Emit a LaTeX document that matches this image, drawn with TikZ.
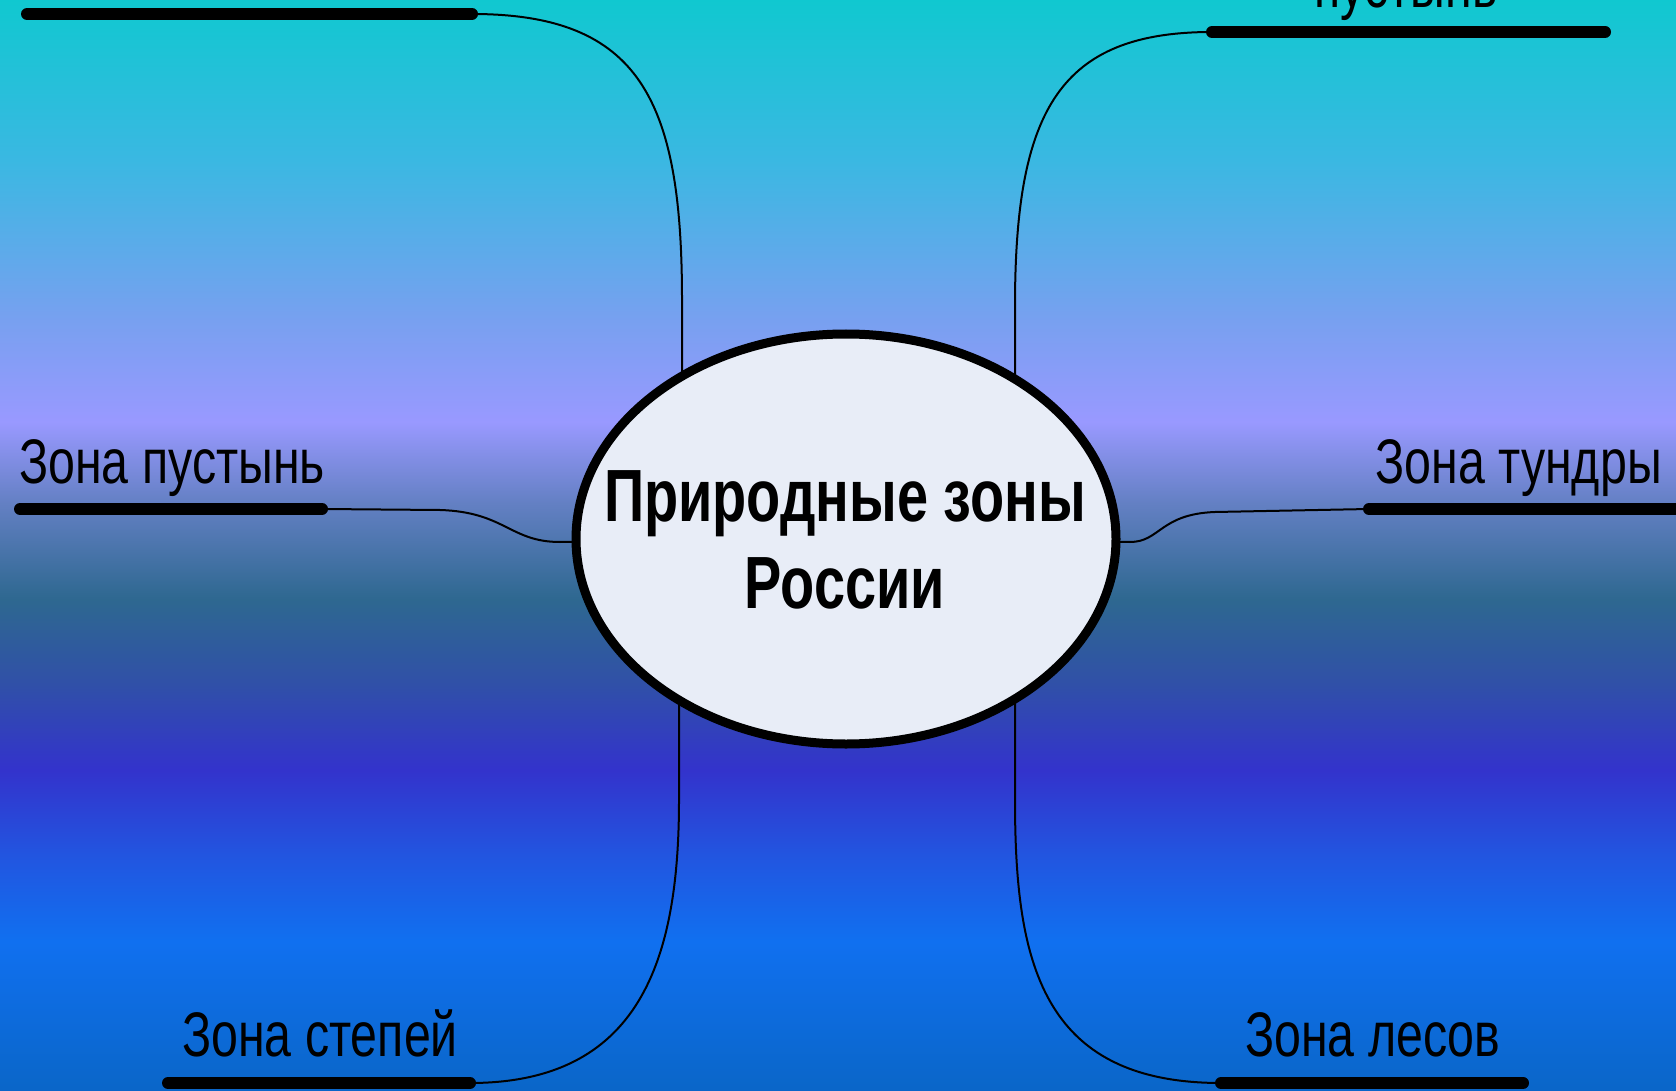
\documentclass[tikz,border=0pt]{standalone}
\usepackage{fontspec}
\usetikzlibrary{shapes.geometric}
\newfontfamily\lblfont[FakeStretch=0.767]{Liberation Sans}
\newfontfamily\ttlfont[FakeStretch=0.755]{Liberation Sans Bold}
\definecolor{bgA}{RGB}{10,102,200}
\definecolor{bgB}{RGB}{16,112,240}
\definecolor{bgC}{RGB}{34,85,224}
\definecolor{bgD}{RGB}{51,51,204}
\definecolor{bgE}{RGB}{48,80,168}
\definecolor{bgF}{RGB}{46,104,144}
\definecolor{bgG}{RGB}{100,128,196}
\definecolor{bgH}{RGB}{153,153,255}
\definecolor{bgI}{RGB}{120,160,240}
\definecolor{bgJ}{RGB}{58,184,226}
\definecolor{bgK}{RGB}{16,200,208}
\definecolor{ellfill}{RGB}{232,237,247}
\pgfdeclareverticalshading{bgshade}{100bp}{color(0bp)=(bgA); color(25bp)=(bgA); color(31.87bp)=(bgB); color(35.82bp)=(bgC); color(39.71bp)=(bgD); color(43.65bp)=(bgE); color(47.55bp)=(bgF); color(51.99bp)=(bgG); color(55.66bp)=(bgH); color(60.29bp)=(bgI); color(67.67bp)=(bgJ); color(75bp)=(bgK); color(100bp)=(bgK)}
\pgfdeclarelayer{backdrop}
\pgfdeclarelayer{links}
\pgfsetlayers{backdrop,links,main}
\tikzset{
  bar/.style={line width=12pt, line cap=round},
  conn/.style={line width=2pt},
  zone/.style={font=\lblfont\fontsize{63}{70}\selectfont, inner sep=0pt},
  hub/.style={ellipse, draw, line width=9pt, fill=ellfill, minimum width=540pt, minimum height=410pt, inner sep=0pt},
  title/.style={font=\ttlfont\fontsize{74}{87}\selectfont, align=center, inner sep=0pt}
}
\begin{document}
\begin{tikzpicture}[x=1pt,y=-1pt]
\useasboundingbox (0,0) rectangle (1676,1091);
\clip (0,0) rectangle (1676,1091);
\begin{pgfonlayer}{backdrop}
\fill[shading=bgshade] (0,0) rectangle (1676,1091);
\end{pgfonlayer}

\node[hub] (c) at (846,539) {};
\node[title] (ct) at (845,540) {Природные зоны\\России};

% bar coordinates
\coordinate (tlA) at (27,14);   \coordinate (tlB) at (472,14);
\coordinate (trA) at (1212,32); \coordinate (trB) at (1605,32);
\coordinate (mlA) at (20,509);  \coordinate (mlB) at (322,509);
\coordinate (mrA) at (1369,509);\coordinate (mrB) at (1690,509);
\coordinate (blA) at (168,1083);\coordinate (blB) at (470,1083);
\coordinate (brA) at (1221,1083);\coordinate (brB) at (1523,1083);

% connectors (under the hub, ending inside it)
\begin{pgfonlayer}{links}
\draw[conn] (tlB) .. controls (640,14) and (682,100) .. (682,300) -- (682,300 |- c.center);
\draw[conn] (trA) .. controls (1060,32) and (1016,110) .. (1015,300) -- (1015,300 |- c.center);
\draw[conn] (mlB) -- (440,510) .. controls (505,512) and (510,542) .. (560,542) -- (c.center);
\draw[conn] (c.center) -- (1130,542) .. controls (1160,542) and (1160,514) .. (1215,512) -- (mrA);
\draw[conn] (blB) .. controls (640,1083) and (679,960) .. (679,800) -- (679,800 |- c.center);
\draw[conn] (brA) .. controls (1040,1083) and (1015,960) .. (1015,800) -- (1015,800 |- c.center);
\end{pgfonlayer}

% bars
\draw[bar] (tlA) -- (tlB);
\draw[bar] (trA) -- (trB);
\draw[bar] (mlA) -- (mlB);
\draw[bar] (mrA) -- (mrB);
\draw[bar] (blA) -- (blB);
\draw[bar] (brA) -- (brB);

% labels
\node[zone, anchor=base] (ltr) at (1406,8) {пустынь};
\node[zone, anchor=base west] (lml) at (19,483) {Зона пустынь};
\node[zone, anchor=base east] (lmr) at (1662,483) {Зона тундры};
\node[zone, anchor=base west] (lbl) at (182,1056) {Зона степей};
\node[zone, anchor=base west] (lbr) at (1245,1056) {Зона лесов};
\end{tikzpicture}
\end{document}
